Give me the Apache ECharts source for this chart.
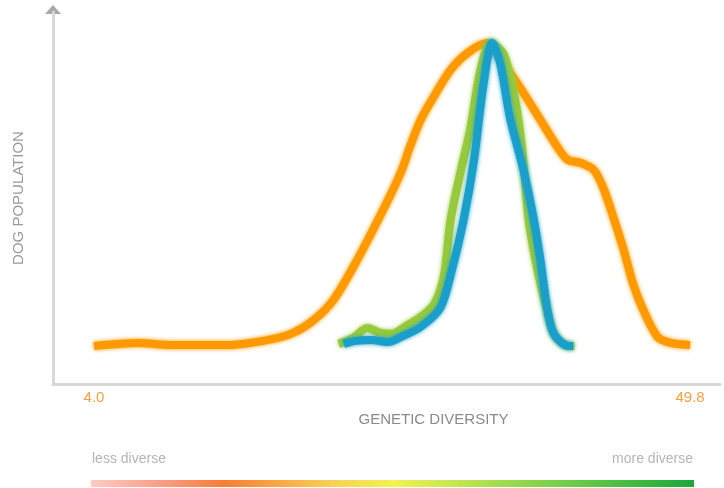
<!DOCTYPE html>
<html>
<head>
<meta charset="utf-8">
<script src="https://cdn.jsdelivr.net/npm/echarts@6/dist/echarts.min.js"></script>
<style>
  html, body { margin: 0; padding: 0; background: #fff; }
  #chart { width: 724px; height: 488px; }
</style>
</head>
<body>
<div id="chart"></div>
<script>
// genetic diversity (x) vs relative dog population (y), peak = 100
const orangeX = [4.0, 7.4, 9.9, 14.3, 17.4, 19.3, 20.9, 22.4, 24.3, 26.4, 27.6, 28.3, 29.1, 30.1, 31.4, 32.7, 34.2, 35.8, 37.0, 38.3, 39.6, 40.4, 41.4, 42.4, 43.1, 43.9, 44.7, 45.4, 46.2, 47.3, 48.3, 49.8];
const orangeY = [0, 1.0, 0.3, 0.3, 2.0, 4.3, 8.6, 15.2, 29.0, 46.5, 57.5, 66.0, 74.6, 82.2, 91.1, 96.7, 100, 91.1, 83.5, 74.6, 65.7, 61.4, 60.4, 58.1, 52.5, 42.6, 31.7, 20.8, 11.9, 3.0, 1.0, 0.3];

const greenX = [22.8, 23.9, 25.0, 26.0, 26.8, 28.1, 29.3, 30.2, 30.9, 31.4, 32.2, 32.9, 33.7, 34.5, 35.5, 36.4, 36.9, 37.4, 38.0, 38.7, 39.3, 40.2, 40.9];
const greenY = [0.7, 2.6, 5.9, 4.3, 4.0, 6.9, 10.2, 14.2, 23.4, 41.6, 58.1, 71.3, 91.1, 100, 96.0, 80.2, 64.7, 41.6, 26.7, 13.5, 4.3, 0.3, 0];

const blueX = [23.2, 24.1, 25.3, 26.6, 27.6, 29.1, 30.6, 31.5, 32.4, 33.2, 33.9, 34.6, 35.2, 36.0, 37.0, 37.8, 38.3, 38.8, 39.3, 40.2, 40.8];
const blueY = [0.7, 1.7, 2.0, 1.3, 3.0, 6.3, 12.5, 25.1, 41.6, 61.4, 85.5, 100, 93.4, 74.6, 58.1, 41.6, 28.4, 12.9, 4.3, 0.3, 0];

const xTickValues = [4.0, 49.8];

const chart = echarts.init(document.getElementById("chart"));

function pairs(xs, ys) {
  return xs.map((x, i) => [x, ys[i]]);
}

function makeLine(name, xs, ys, color, width) {
  return {
    name: name,
    type: "line",
    data: pairs(xs, ys),
    smooth: 0.3,
    symbol: "none",
    lineStyle: {
      color: color,
      width: width,
      cap: "butt",
      join: "round",
      shadowColor: color,
      shadowBlur: 4,
    },
  };
}

const option = {
  animation: false,
  grid: { left: 53, right: 4, top: 12, bottom: 104 },
  xAxis: {
    type: "value",
    min: 0.85,
    max: 52.1,
    name: "GENETIC DIVERSITY",
    nameLocation: "middle",
    nameGap: 28,
    nameTextStyle: {
      color: "#8a8a8a",
      fontSize: 15,
      fontFamily: "Liberation Sans",
      padding: [0, 0, 0, 94],
    },
    axisLine: { onZero: false, lineStyle: { color: "#d8d8d8", width: 3 } },
    axisTick: { show: false },
    splitLine: { show: false },
    axisLabel: {
      customValues: xTickValues,
      formatter: (v) => v.toFixed(1),
      color: "#f9a03f",
      fontSize: 15,
      fontFamily: "Liberation Sans",
      margin: 6,
    },
  },
  yAxis: {
    type: "value",
    min: -12.54,
    max: 110.2,
    name: "DOG POPULATION",
    nameLocation: "middle",
    nameGap: 27,
    nameTextStyle: {
      color: "#9a9a9a",
      fontSize: 15,
      fontFamily: "Liberation Sans",
    },
    axisLine: { show: true, onZero: false, lineStyle: { color: "#d8d8d8", width: 3 } },
    axisTick: { show: false },
    axisLabel: { show: false },
    splitLine: { show: false },
  },
  series: [
    makeLine("orange", orangeX, orangeY, "#ff9900", 8),
    makeLine("green", greenX, greenY, "#96c93c", 8),
    makeLine("blue", blueX, blueY, "#1a9fca", 8),
  ],
  graphic: [
    {
      type: "polygon",
      shape: { points: [[45, 14], [61, 14], [53, 5]] },
      style: { fill: "#a8a8a8" },
    },
    {
      type: "text",
      left: 92,
      top: 452,
      style: { text: "less diverse", fill: "#b5b5b5", fontSize: 14, fontFamily: "Liberation Sans" },
    },
    {
      type: "text",
      right: 31,
      top: 452,
      style: { text: "more diverse", fill: "#b5b5b5", fontSize: 14, fontFamily: "Liberation Sans" },
    },
    {
      type: "rect",
      shape: { x: 91, y: 480, width: 603, height: 7 },
      style: {
        fill: new echarts.graphic.LinearGradient(0, 0, 1, 0, [
          { offset: 0, color: "#ffcbc3" },
          { offset: 0.12, color: "#fa9c84" },
          { offset: 0.22, color: "#f77d34" },
          { offset: 0.3, color: "#f9a243" },
          { offset: 0.4, color: "#f8d057" },
          { offset: 0.5, color: "#f2f250" },
          { offset: 0.62, color: "#bde452" },
          { offset: 0.8, color: "#6ccb48" },
          { offset: 1, color: "#1aa83a" },
        ]),
      },
    },
  ],
};

chart.setOption(option);
</script>
</body>
</html>
